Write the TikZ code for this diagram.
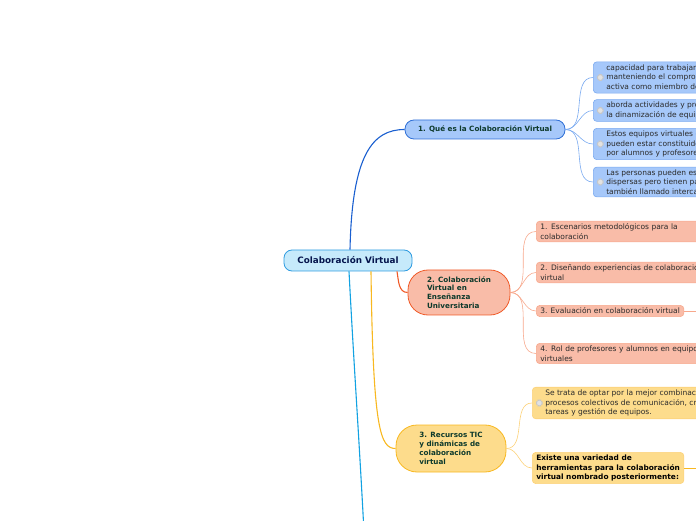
\documentclass[tikz,border=0pt]{standalone}
\usepackage{fontspec}
\setmainfont{DejaVu Sans}
\usetikzlibrary{positioning}
\definecolor{cvrootfill}{HTML}{C6EAFB}
\definecolor{cvrootline}{HTML}{2D9BE0}
\definecolor{cvbluefill}{HTML}{A6C8FA}
\definecolor{cvblueline}{HTML}{2F6FD6}
\definecolor{cvbluelink}{HTML}{1A5FD0}
\definecolor{cvbluesoft}{HTML}{7AAAF0}
\definecolor{cvredfill}{HTML}{F9BCA8}
\definecolor{cvredline}{HTML}{F05A28}
\definecolor{cvredsoft}{HTML}{F7A88C}
\definecolor{cvyelfill}{HTML}{FDDC8C}
\definecolor{cvyelline}{HTML}{F8B820}
\definecolor{cvyelsoft}{HTML}{FCD27A}
\definecolor{cvcyan}{HTML}{12A2E2}
\definecolor{cvtopic}{HTML}{0E3A2C}
\definecolor{cvtext}{HTML}{2A2A2A}
\definecolor{cvcheck}{HTML}{E2E2E2}

\begin{document}
\begin{tikzpicture}[
  x=1pt, y=1pt,
  font=\fontsize{7.5}{9.5}\selectfont,
  rootbox/.style={draw=cvrootline, fill=cvrootfill, thick, rounded corners=8pt, minimum width=128pt, minimum height=21pt, font=\fontsize{8.8}{10}\selectfont\bfseries, text=cvtopic!60!blue!60!black},
  topic/.style={draw, thick, align=left, font=\fontsize{7.2}{8.8}\selectfont\bfseries, text=cvtopic},
  leaf/.style={draw, semithick, rounded corners=3.5pt, align=left, anchor=west, inner xsep=4pt, inner ysep=2.5pt, text=cvtext},
  check/.style={leaf, inner xsep=13pt, path picture={\draw[black!22, fill=cvcheck] ([xshift=4pt,yshift=-3pt]path picture bounding box.west) rectangle ++(6pt,6pt);}},
  mainlink/.style={draw, line width=1.1pt},
  sublink/.style={draw, line width=0.6pt},
]
  \clip (0,0) rectangle (696,520);

  % central topic
  \node[rootbox] (root) at (348,259.5) {Colaboración Virtual};

  % main branches
  \node[topic, draw=cvblueline, fill=cvbluefill, rounded corners=9pt, minimum width=160pt, minimum height=19pt] (q1) at (485,390.5) {1. Qué es la Colaboración Virtual};
  \node[topic, draw=cvredline, fill=cvredfill, rounded corners=20pt, minimum width=102pt, minimum height=45pt] (q2) at (459,227.5) {2. Colaboración\\Virtual en\\Enseñanza\\Universitaria};
  \node[topic, draw=cvyelline, fill=cvyelfill, rounded corners=21pt, minimum width=110pt, minimum height=47pt] (q3) at (451,71.5) {3. Recursos TIC\\y dinámicas de\\colaboración\\virtual};
  \coordinate (q4) at (364,-12);

  % branch 1 leaves
  \node[check, draw=cvbluesoft, fill=cvbluefill] (a1) at (593,442.5) {capacidad para trabajar en equipo\\manteniendo el compromiso y\\activa como miembro del grupo};
  \node[check, draw=cvbluesoft, fill=cvbluefill] (a2) at (593,409.5) {aborda actividades y propuestas para\\la dinamización de equipos};
  \node[check, draw=cvbluesoft, fill=cvbluefill] (a3) at (593,376) {Estos equipos virtuales de trabajo\\pueden estar constituidos\\por alumnos y profesores};
  \node[check, draw=cvbluesoft, fill=cvbluefill] (a4) at (593,338) {Las personas pueden estar\\dispersas pero tienen pautas\\también llamado intercambio};

  % branch 2 leaves
  \node[leaf, draw=cvredsoft, fill=cvredfill, text width=175pt] (b1) at (536,288.5) {1. Escenarios metodológicos para la\\colaboración};
  \node[leaf, draw=cvredsoft, fill=cvredfill, text width=175pt] (b2) at (536,247.5) {2. Diseñando experiencias de colaboración\\virtual};
  \node[leaf, draw=cvredsoft, fill=cvredfill] (b3) at (536,209) {3. Evaluación en colaboración virtual};
  \node[leaf, draw=cvredsoft, fill=cvredfill, text width=175pt] (b4) at (536,166.5) {4. Rol de profesores y alumnos en equipos\\virtuales};
  \coordinate (b3x) at (710,209);

  % branch 3 leaves
  \node[check, draw=cvyelsoft, fill=cvyelfill] (c1) at (532,117) {Se trata de optar por la mejor combinación de\\procesos colectivos de comunicación, creación de\\tareas y gestión de equipos.};
  \node[leaf, draw=cvyelsoft, fill=cvyelfill, font=\fontsize{7.4}{9.5}\selectfont\bfseries, text=black] (c2) at (532,52) {Existe una variedad de\\herramientas para la colaboración\\virtual nombrado posteriormente:};
  \coordinate (c2x) at (710,52);

  % root to branches
  \draw[mainlink, cvbluelink] ([xshift=2pt]root.north) .. controls +(2,95) and +(-32,0) .. (q1.west);
  \draw[mainlink, cvredline] ([xshift=49pt]root.south) to[out=-80, in=180] (q2.west);
  \draw[mainlink, cvyelline] ([xshift=23pt]root.south) .. controls +(2,-160) and +(-15,0) .. (q3.west);
  \draw[mainlink, cvcyan] ([xshift=1pt]root.south) to[out=-87, in=93] (q4);

  % branches to leaves
  \foreach \n in {a1,a2,a3,a4}
    \draw[sublink, cvbluesoft] (q1.east) to[out=0, in=180] (\n.west);
  \foreach \n in {b1,b2,b3,b4}
    \draw[sublink, cvredsoft] (q2.east) to[out=0, in=180] (\n.west);
  \foreach \n in {c1,c2}
    \draw[sublink, cvyelsoft] (q3.east) to[out=0, in=180] (\n.west);
  \draw[sublink, cvredsoft] (b3.east) -- (b3x);
  \draw[sublink, cvyelline] (c2.east) -- (c2x);
\end{tikzpicture}
\end{document}
